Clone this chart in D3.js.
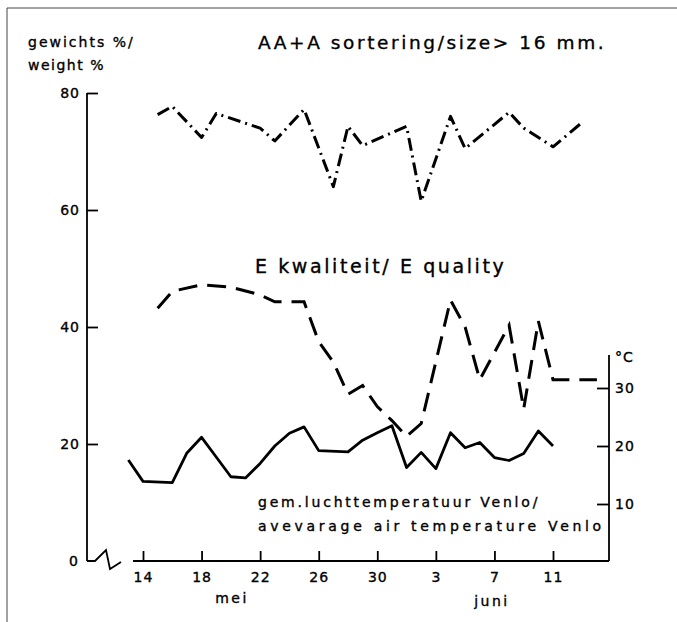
<!DOCTYPE html>
<html>
<head>
<meta charset="utf-8">
<script src="https://cdn.jsdelivr.net/npm/d3@7"></script>
<style>
  body { margin: 0; background: #fff; }
  text { font-family: "DejaVu Sans", sans-serif; fill: #000; stroke: #000; stroke-width: 0.35px; }
</style>
</head>
<body>
<div id="chart"></div>
<script>
// AA+A sortering (dash-dot), E kwaliteit (dashed), temperature (solid)
var sizeDates = ["05-15","05-16","05-18","05-19","05-22","05-23","05-25","05-27","05-28","05-29","06-01","06-02","06-04","06-05","06-08","06-09","06-11","06-13"];
var sizeValues = [76.3, 77.7, 72.4, 76.5, 74, 71.8, 77.2, 64, 74.3, 71, 74.3, 61.5, 76, 70.5, 76.7, 74, 70.8, 75];

var qualDates = ["05-15","05-16","05-18","05-20","05-22","05-23","05-25","05-26","05-27","05-28","05-29","05-30","05-31","06-01","06-02","06-04","06-05","06-06","06-08","06-09","06-10","06-11","06-14"];
var qualValues = [43.2, 46.1, 47.2, 46.8, 45.5, 44.3, 44.3, 37.5, 34, 28.5, 30, 26.4, 24, 21.3, 23.5, 44.6, 40, 31, 40.3, 26, 41, 31, 31];

var tempDates = ["05-13","05-14","05-16","05-17","05-18","05-19","05-20","05-21","05-22","05-23","05-24","05-25","05-26","05-28","05-29","05-30","05-31","06-01","06-02","06-03","06-04","06-05","06-06","06-07","06-08","06-09","06-10","06-11"];
var tempValues = [17.6, 13.9, 13.7, 18.8, 21.5, 18.1, 14.7, 14.5, 17, 20, 22.2, 23.3, 19.2, 19, 21, 22.3, 23.5, 16.3, 18.9, 16.1, 22.3, 19.7, 20.6, 18, 17.5, 18.7, 22.6, 20];

var xTicks = ["05-14","05-18","05-22","05-26","05-30","06-03","06-07","06-11"];
var yTicks = [0, 20, 40, 60, 80];
var tTicks = [10, 20, 30];

var width = 677, height = 622;
var parse = d3.timeParse("%Y-%m-%d");
function day(s) { return parse("1975-" + s); }

var svg = d3.select("#chart").append("svg")
    .attr("width", width)
    .attr("height", height);

var x = d3.scaleTime()
    .domain([day("05-14"), day("06-11")])
    .range([143, 553]);
var y = d3.scaleLinear().domain([0, 80]).range([561, 93]);
var yT = d3.scaleLinear().domain([0, 35]).range([562, 359]);

// frame
svg.append("path")
    .attr("d", "M7,622 V8 H677")
    .attr("fill", "none")
    .attr("stroke", "#444")
    .attr("stroke-width", 1);

// left axis
var axisX = 87;
var gl = svg.append("g")
    .attr("transform", `translate(${axisX},0)`)
    .call(d3.axisLeft(y).tickValues(yTicks.filter(d => d > 0)).tickSize(-11).tickPadding(7));
gl.select(".domain").remove();
gl.selectAll(".tick line").attr("stroke", "#000").attr("stroke-width", 1.8);
gl.selectAll(".tick text").attr("font-size", 14).attr("letter-spacing", 1);
svg.append("line")
    .attr("x1", axisX).attr("x2", axisX)
    .attr("y1", y(80)).attr("y2", y(0))
    .attr("stroke", "#000").attr("stroke-width", 1.8);
svg.append("text")
    .attr("x", 78).attr("y", y(0)).attr("dy", "0.35em")
    .attr("text-anchor", "end").attr("font-size", 14)
    .text("0");
// axis break
svg.append("path")
    .attr("d", `M${axisX},${y(0)} H${axisX + 8} L${axisX + 19},${y(0) - 11} L${axisX + 23},${y(0) + 8} L${axisX + 34},${y(0) + 1}`)
    .attr("fill", "none").attr("stroke", "#000").attr("stroke-width", 1.8);

// bottom axis
var gb = svg.append("g")
    .attr("transform", `translate(0,${y(0)})`)
    .call(d3.axisBottom(x).tickValues(xTicks.map(day)).tickSize(-10).tickPadding(11)
        .tickFormat(d3.timeFormat("%-d")));
gb.select(".domain").remove();
gb.selectAll(".tick line").attr("stroke", "#000").attr("stroke-width", 1.8);
gb.selectAll(".tick text").attr("font-size", 14).attr("letter-spacing", 1);
svg.append("line")
    .attr("x1", 133).attr("x2", 609)
    .attr("y1", y(0)).attr("y2", y(0))
    .attr("stroke", "#000").attr("stroke-width", 2);

svg.append("text").attr("x", 232).attr("y", 603).attr("text-anchor", "middle")
    .attr("font-size", 14).attr("letter-spacing", 2.5).text("mei");
svg.append("text").attr("x", 492).attr("y", 606).attr("text-anchor", "middle")
    .attr("font-size", 14).attr("letter-spacing", 2.5).text("juni");

// right temperature axis
var gr = svg.append("g")
    .attr("transform", "translate(609,0)")
    .call(d3.axisRight(yT).tickValues(tTicks).tickSize(-12).tickPadding(7));
gr.select(".domain").remove();
gr.selectAll(".tick line").attr("stroke", "#000").attr("stroke-width", 1.8);
gr.selectAll(".tick text").attr("font-size", 14).attr("letter-spacing", 1).attr("x", 6);
svg.append("line")
    .attr("x1", 609).attr("x2", 609)
    .attr("y1", 355).attr("y2", y(0))
    .attr("stroke", "#000").attr("stroke-width", 1.8);
svg.append("text").attr("x", 615).attr("y", 362)
    .attr("font-size", 14).attr("letter-spacing", 1).text("°C");

// lines
var lineSize = d3.line().x(d => x(d.date)).y(d => y(d.value));
var lineTemp = d3.line().x(d => x(d.date)).y(d => yT(d.value));

function zip(dates, values) {
  return dates.map((s, i) => ({ date: day(s), value: values[i] }));
}

svg.append("path")
    .datum(zip(sizeDates, sizeValues))
    .attr("d", lineSize)
    .attr("fill", "none").attr("stroke", "#000").attr("stroke-width", 3)
    .attr("stroke-linejoin", "round")
    .attr("stroke-dasharray", "13,5,2,5");

svg.append("path")
    .datum(zip(qualDates, qualValues))
    .attr("d", lineSize)
    .attr("fill", "none").attr("stroke", "#000").attr("stroke-width", 3)
    .attr("stroke-dasharray", "19,10");

svg.append("path")
    .datum(zip(tempDates, tempValues))
    .attr("d", lineTemp)
    .attr("fill", "none").attr("stroke", "#000").attr("stroke-width", 2.8)
    .attr("stroke-linejoin", "round");

// labels
svg.append("text").attr("x", 28).attr("y", 47)
    .attr("font-size", 14).attr("letter-spacing", 2).text("gewichts %/");
svg.append("text").attr("x", 28).attr("y", 70)
    .attr("font-size", 14).attr("letter-spacing", 1.5).text("weight %");
svg.append("text").attr("x", 258).attr("y", 49)
    .attr("font-size", 18.5).attr("letter-spacing", 2.6).text("AA+A sortering/size> 16 mm.");
svg.append("text").attr("x", 255).attr("y", 273)
    .attr("font-size", 19).attr("letter-spacing", 2.6).text("E kwaliteit/ E quality");
svg.append("text").attr("x", 258).attr("y", 507)
    .attr("font-size", 14).attr("letter-spacing", 2.8).text("gem.luchttemperatuur Venlo/");
svg.append("text").attr("x", 258).attr("y", 531)
    .attr("font-size", 14).attr("letter-spacing", 3.7).text("avevarage air temperature Venlo");
</script>
</body>
</html>
